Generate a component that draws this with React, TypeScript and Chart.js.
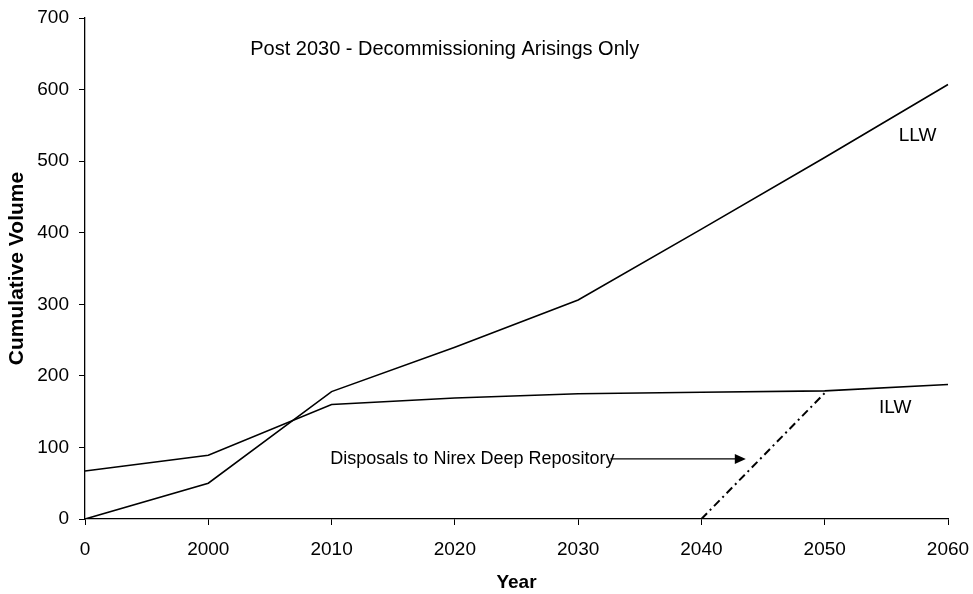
import React, { useEffect, useRef } from "react";
import { Chart, registerables } from "chart.js";

Chart.register(...registerables);

const categories = ["0", "2000", "2010", "2020", "2030", "2040", "2050", "2060"];
const llwValues = [0, 50, 178, 240, 306, 405, 505, 607];
const ilwValues = [67, 89, 160, 169, 175, 177, 179, 188];
const disposalValues: (number | null)[] = [null, null, null, null, null, 0, 176, null];
const yTicks = [0, 100, 200, 300, 400, 500, 600, 700];

const chartTitle = "Post 2030 - Decommissioning Arisings Only";
const disposalLabel = "Disposals to Nirex Deep Repository";

const FONT = "'Liberation Sans', Arial, sans-serif";

const annotationPlugin = {
  id: "annotations",
  afterDraw(chart: any) {
    const { ctx, scales } = chart;
    const xs = scales.x;
    const ys = scales.y;
    const px = (i: number) => xs.getPixelForValue(i);
    const py = (v: number) => ys.getPixelForValue(v);
    ctx.save();
    ctx.fillStyle = "#000";
    ctx.strokeStyle = "#000";
    ctx.textBaseline = "middle";
    ctx.textAlign = "left";
    ctx.font = `20px ${FONT}`;
    ctx.fillText(chartTitle, px(1.34), py(656));
    ctx.font = `19px ${FONT}`;
    ctx.fillText("LLW", px(6.6), py(536));
    ctx.fillText("ILW", px(6.44), py(155));
    ctx.font = `18px ${FONT}`;
    const tx = px(1.99);
    const ty = py(84);
    ctx.fillText(disposalLabel, tx, ty);
    const w = ctx.measureText(disposalLabel).width;
    const x0 = tx + w - 4;
    const x1 = px(5.36);
    ctx.lineWidth = 1.2;
    ctx.beginPath();
    ctx.moveTo(x0, ty);
    ctx.lineTo(x1 - 10, ty);
    ctx.stroke();
    ctx.beginPath();
    ctx.moveTo(x1, ty);
    ctx.lineTo(x1 - 11, ty - 5);
    ctx.lineTo(x1 - 11, ty + 5);
    ctx.closePath();
    ctx.fill();
    ctx.restore();
  },
};

export default function App() {
  const ref = useRef<HTMLCanvasElement>(null);
  useEffect(() => {
    document.body.style.margin = "0";
    const chart = new Chart(ref.current as HTMLCanvasElement, {
      type: "line",
      data: {
        labels: categories,
        datasets: [
          {
            label: "LLW",
            data: llwValues,
            borderColor: "#000",
            borderWidth: 1.6,
            pointRadius: 0,
            tension: 0,
          },
          {
            label: "ILW",
            data: ilwValues,
            borderColor: "#000",
            borderWidth: 1.6,
            pointRadius: 0,
            tension: 0,
          },
          {
            label: "Disposals",
            data: disposalValues,
            borderColor: "#000",
            borderWidth: 2,
            borderDash: [8, 4, 2, 4],
            pointRadius: 0,
            tension: 0,
            spanGaps: false,
          },
        ],
      },
      options: {
        animation: false,
        responsive: false,
        layout: { padding: { top: 18, right: 25, left: 0, bottom: 0 } },
        plugins: { legend: { display: false }, tooltip: { enabled: false } },
        scales: {
          x: {
            type: "category",
            offset: false,
            grid: { drawOnChartArea: false, drawTicks: true, tickLength: 6, color: "#000" },
            border: { display: true, color: "#000", width: 1.3 },
            ticks: {
              color: "#000",
              font: { family: FONT, size: 19 },
              padding: 13,
              maxRotation: 0,
              autoSkip: false,
            },
            title: {
              display: true,
              text: "Year",
              color: "#000",
              font: { family: FONT, size: 19, weight: "bold" },
              padding: { top: 4, bottom: 0 },
            },
            afterFit(scale: any) {
              scale.height = 75;
              scale.paddingLeft = 0;
              scale.paddingRight = 0;
            },
          },
          y: {
            min: 0,
            max: 700,
            afterBuildTicks(scale: any) {
              scale.ticks = yTicks.map((v) => ({ value: v }));
            },
            grid: { drawOnChartArea: false, drawTicks: true, tickLength: 6, color: "#000" },
            border: { display: true, color: "#000", width: 1.3 },
            ticks: {
              color: "#000",
              font: { family: FONT, size: 19 },
              padding: 10,
            },
            title: {
              display: true,
              text: "Cumulative Volume",
              color: "#000",
              font: { family: FONT, size: 21, weight: "bold" },
              padding: { top: 5, bottom: 4 },
            },
            afterFit(scale: any) {
              scale.width = 85;
              scale.paddingTop = 0;
              scale.paddingBottom = 0;
            },
          },
        },
      },
      plugins: [annotationPlugin],
    } as any);
    return () => chart.destroy();
  }, []);
  return (
    <div style={{ width: 973, height: 594 }}>
      <canvas ref={ref} width={973} height={594} style={{ display: "block" }} />
    </div>
  );
}
